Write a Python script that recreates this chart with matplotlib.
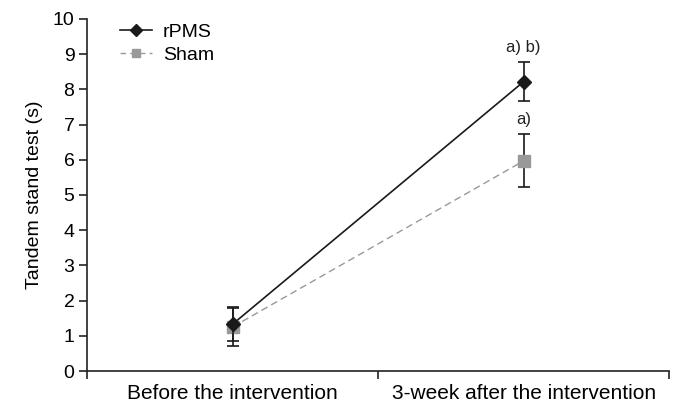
import matplotlib
matplotlib.use("Agg")
import matplotlib.pyplot as plt
from matplotlib.lines import Line2D

plt.rcParams['font.family'] = ['Liberation Sans', 'DejaVu Sans']

categories = ["Before the intervention", "3-week after the intervention"]
rpms_mean = [1.33, 8.22]
rpms_err = [0.48, 0.55]
sham_mean = [1.25, 5.97]
sham_err = [0.54, 0.75]
annotations_rpms = ["", "a) b)"]
annotations_sham = ["", "a)"]

fig = plt.figure(figsize=(6.77, 4.03), dpi=100)
ax = fig.add_axes([0.1285, 0.0794, 0.86, 0.8735])

xpos = [0.5, 1.5]
c_r = '#1a1a1a'
c_s = '#999999'
ax.errorbar(xpos, sham_mean, yerr=sham_err, color=c_s, ecolor=c_r, elinewidth=1.2,
            capsize=4.5, capthick=1.2, linestyle=(0, (5, 3)), linewidth=1.0,
            marker='s', markersize=8.5, markeredgecolor=c_s, markerfacecolor=c_s,
            zorder=2)
ax.errorbar(xpos, rpms_mean, yerr=rpms_err, color=c_r, ecolor=c_r, elinewidth=1.2,
            capsize=4.5, capthick=1.2, linestyle='-', linewidth=1.2,
            marker='D', markersize=7, zorder=3)

for x, m, e, t in zip(xpos, rpms_mean, rpms_err, annotations_rpms):
    if t:
        ax.annotate(t, (x, m + e), xytext=(0, 5), textcoords='offset points',
                    ha='center', va='bottom', fontsize=12, color='#222222')
for x, m, e, t in zip(xpos, sham_mean, sham_err, annotations_sham):
    if t:
        ax.annotate(t, (x, m + e), xytext=(0, 5), textcoords='offset points',
                    ha='center', va='bottom', fontsize=12, color='#222222')

ax.set_xlim(0, 2)
ax.set_ylim(0, 10)
ax.set_yticks(range(0, 11))
ax.set_xticks([0, 1, 2])
ax.set_xticklabels([])
ax.set_xticks(xpos, minor=True)
ax.set_xticklabels(categories, minor=True, fontsize=15)
ax.tick_params(axis='x', which='minor', length=0, pad=9)
ax.tick_params(axis='x', which='major', direction='out', length=6, width=1.2, color='#222222')
ax.tick_params(axis='y', direction='out', length=6, width=1.2, labelsize=14, color='#222222', pad=3)
for s in ['top', 'right']:
    ax.spines[s].set_visible(False)
for s in ['left', 'bottom']:
    ax.spines[s].set_linewidth(1.2)
    ax.spines[s].set_color('#222222')
ax.set_ylabel("Tandem stand test (s)", fontsize=14, labelpad=7)

handles = [
    Line2D([], [], color=c_r, linewidth=1.2, marker='D', markersize=6),
    Line2D([], [], color=c_s, linewidth=1.0, linestyle=(0, (4, 3)), marker='s', markersize=5.5),
]
ax.legend(handles, ["rPMS", "Sham"], loc='upper left', bbox_to_anchor=(0.057, 0.988),
          frameon=False, fontsize=14, handlelength=1.65, handletextpad=0.55,
          labelspacing=0.3, borderpad=0, borderaxespad=0)

fig.savefig("out.png", dpi=100)
